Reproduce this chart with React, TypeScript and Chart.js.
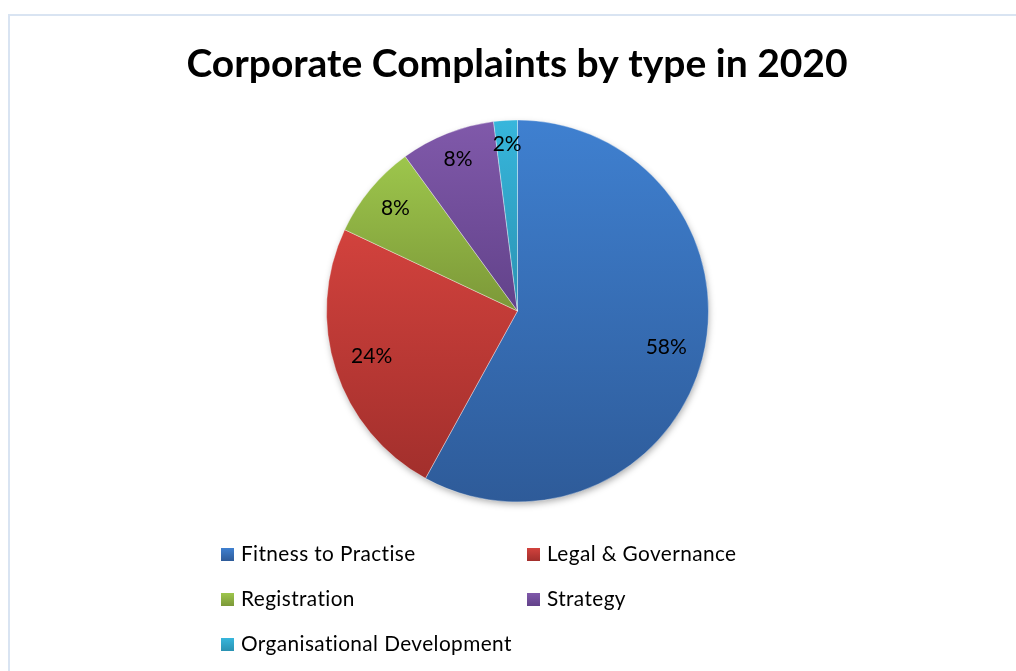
import React, { useEffect, useRef } from "react";
import { Chart, registerables } from "chart.js";

Chart.register(...registerables);

const TITLE = "Corporate Complaints by type in 2020";
const categories = [
  "Fitness to Practise",
  "Legal & Governance",
  "Registration",
  "Strategy",
  "Organisational Development",
];
const values = [58, 24, 8, 8, 2];
const colorTop = ["#3F80D0", "#D2423D", "#9DC64C", "#8059AA", "#37B6DC"];
const colorBottom = ["#2E5B99", "#A22F2C", "#7C9838", "#62428A", "#2A92B2"];

function sliceGradient(ctx2d: CanvasRenderingContext2D, i: number, cx: number, cy: number, r: number) {
  const total = values.reduce((a, b) => a + b, 0);
  let cum = 0;
  for (let k = 0; k < i; k++) cum += values[k];
  const a0 = -Math.PI / 2 + (2 * Math.PI * cum) / total;
  const a1 = a0 + (2 * Math.PI * values[i]) / total;
  const ys = [cy, cy + r * Math.sin(a0), cy + r * Math.sin(a1)];
  for (let k = -2; k <= 4; k++) {
    const a = -Math.PI / 2 + k * Math.PI;
    if (a >= a0 && a <= a1) ys.push(cy + r * Math.sin(a));
  }
  const y0 = Math.min(...ys);
  const y1 = Math.max(...ys);
  const g = ctx2d.createLinearGradient(0, y0, 0, y1 + 0.01);
  g.addColorStop(0, colorTop[i]);
  g.addColorStop(1, colorBottom[i]);
  return g;
}

const RADIUS = 191;

const decorPlugin = {
  id: "decor",
  beforeDatasetsDraw(chart: any) {
    const ctx = chart.ctx;
    const a = chart.chartArea;
    const cx = (a.left + a.right) / 2;
    const cy = (a.top + a.bottom) / 2;
    ctx.save();
    ctx.shadowColor = "rgba(0,0,0,0.35)";
    ctx.shadowBlur = 7;
    ctx.shadowOffsetX = 1;
    ctx.shadowOffsetY = 3;
    ctx.beginPath();
    ctx.arc(cx, cy, RADIUS - 1, 0, Math.PI * 2);
    ctx.fillStyle = "#ffffff";
    ctx.fill();
    ctx.restore();
  },
  afterDraw(chart: any) {
    const ctx = chart.ctx;
    ctx.save();
    // Title
    ctx.fillStyle = "#000000";
    ctx.font = "bold 39px Lato";
    ctx.textAlign = "center";
    ctx.textBaseline = "alphabetic";
    ctx.fillText(TITLE, 517, 77);

    // Data labels
    const meta = chart.getDatasetMeta(0);
    const total = values.reduce((s, v) => s + v, 0);
    ctx.font = "21px Lato";
    ctx.textBaseline = "middle";
    meta.data.forEach((arc: any, i: number) => {
      const p = arc.getProps(["x", "y", "startAngle", "endAngle", "outerRadius"], true);
      const mid = (p.startAngle + p.endAngle) / 2;
      const txt = Math.round((values[i] / total) * 100) + "%";
      const w = ctx.measureText(txt).width;
      const h = 20;
      const c = Math.cos(mid);
      const s = Math.sin(mid);
      const d = p.outerRadius - 15 - Math.abs(c) * w / 2 - Math.abs(s) * h / 2;
      ctx.fillText(txt, p.x + c * d, p.y + s * d - 2);
    });

    // Legend
    const colX = [221, 527];
    const rowY = [548, 593, 638];
    ctx.font = "20.8px Lato";
    try {
      (ctx as any).letterSpacing = "0.4px";
    } catch (e) {}
    ctx.textAlign = "left";
    ctx.textBaseline = "alphabetic";
    categories.forEach((name, i) => {
      const x = colX[i % 2];
      const y = rowY[Math.floor(i / 2)];
      const g = ctx.createLinearGradient(0, y, 0, y + 13);
      g.addColorStop(0, colorTop[i]);
      g.addColorStop(1, colorBottom[i]);
      ctx.fillStyle = g;
      ctx.fillRect(x, y, 13, 13);
      ctx.fillStyle = "#000000";
      ctx.fillText(name, x + 20, y + 13);
    });
    ctx.restore();
  },
};

export default function App() {
  const ref = useRef<HTMLCanvasElement>(null);
  useEffect(() => {
    if (!ref.current) return;
    const chart = new Chart(ref.current, {
      type: "pie",
      data: {
        labels: categories,
        datasets: [
          {
            data: values,
            radius: RADIUS,
            backgroundColor: (c: any) => {
              const area = c.chart.chartArea;
              const i = c.dataIndex;
              if (!area || i === undefined) return colorBottom[i || 0];
              const cx = (area.left + area.right) / 2;
              const cy = (area.top + area.bottom) / 2;
              return sliceGradient(c.chart.ctx, i, cx, cy, RADIUS);
            },
            borderColor: "rgba(255,255,255,0.35)",
            borderWidth: 1,
            hoverOffset: 0,
          } as any,
        ],
      },
      options: {
        animation: false,
        responsive: false,
        events: [],
        rotation: 0,
        layout: { padding: { left: 19, right: 0, top: 0, bottom: 49 } },
        plugins: {
          legend: { display: false },
          tooltip: { enabled: false },
          title: { display: false },
        },
      },
      plugins: [decorPlugin],
    });
    return () => chart.destroy();
  }, []);
  return (
    <div style={{ position: "fixed", left: 0, top: 0, width: 1016, height: 671, background: "#ffffff", overflow: "hidden" }}>
      <div
        style={{
          position: "absolute",
          left: 8,
          top: 14,
          width: 1100,
          height: 800,
          borderTop: "2px solid #D9E4F2",
          borderLeft: "2px solid #D9E4F2",
        }}
      />
      <canvas ref={ref} width={1016} height={671} style={{ position: "absolute", left: 0, top: 0, width: 1016, height: 671 }} />
    </div>
  );
}
